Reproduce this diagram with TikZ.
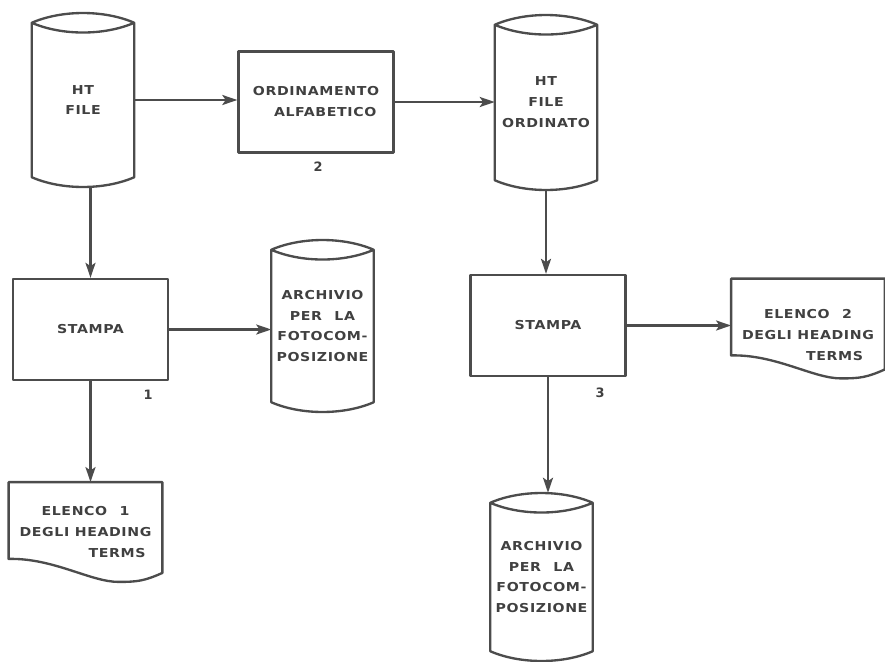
\documentclass[tikz,border=0pt]{standalone}
\usepackage{fontspec}
\newfontfamily\flowfont{DejaVu Sans Bold}[FakeStretch=1.15, LetterSpace=5]
\newfontfamily\numfont{DejaVu Sans Bold}
\usetikzlibrary{arrows.meta}
\usetikzlibrary{calc}
\colorlet{flowline}{black!70}
\colorlet{flowtext}{black!75}

\begin{document}
\begin{tikzpicture}[x=0.03cm, y=-0.03cm,
        every node/.style={text=flowtext, font=\flowfont\fontsize{10.5pt}{17.9pt}\selectfont, align=center},
        outline/.style={draw=flowline, line width=2pt, line join=round},
        procbox/.style={outline, rectangle, minimum width=4.65cm, minimum height=3.03cm, inner sep=0pt},
        store/.style={rectangle, minimum width=3.06cm, inner sep=0pt},
        listdoc/.style={rectangle, minimum width=4.6cm, minimum height=2.98cm, inner sep=0pt},
        flow/.style={outline, -{Stealth[length=0.45cm, width=0.3cm, inset=0.1cm]}},
        numlabel/.style={font=\numfont\fontsize{11pt}{12pt}\selectfont}]
        \useasboundingbox (0,0) rectangle (885,661);
        \clip (0,0) rectangle (885,661);
        % stores
        \node[store, minimum height=5.22cm] (htfile) at (83,100) {HT\\FILE};
        \node[store, minimum height=5.25cm] (ordinato) at (546,102.5) {HT\\FILE\\ORDINATO};
        \node[store, minimum height=5.16cm] (archivio1) at (322.5,326) {ARCHIVIO\\PER\quad LA\\FOTOCOM-\\POSIZIONE};
        \node[store, minimum height=5.04cm] (archivio2) at (541.5,577) {ARCHIVIO\\PER\quad LA\\FOTOCOM-\\POSIZIONE};
        % processes
        \node[procbox] (ordin) at (316,102) {ORDINAMENTO\\\hspace*{0.55cm}ALFABETICO};
        \node[procbox] (stampa1) at (90.5,329.5) {STAMPA};
        \node[procbox] (stampa3) at (548,325.5) {STAMPA};
        % printed lists
        \node[listdoc] (elenco1) at (85.5,532) {ELENCO\quad 1\\DEGLI HEADING\\\hspace*{1.9cm}TERMS};
        \node[listdoc] (elenco2) at (808,328.5) {\rule{0pt}{0.66cm}ELENCO\quad 2\\DEGLI HEADING\\\hspace*{1.6cm}TERMS};
        % step numbers
        \node[numlabel] (num2) at (318,167) {2};
        \node[numlabel] (num1) at (148,395) {1};
        \node[numlabel] (num3) at (600,393) {3};
        % cylinder outlines
        \foreach \n in {htfile,ordinato,archivio1,archivio2}
        {
            \draw[outline] ($(\n.north west)+(0,10)$) .. controls ($(\n.north west)+(30,-3)$) and ($(\n.north east)+(-30,-3)$) .. ($(\n.north east)+(0,10)$)
                .. controls ($(\n.north east)+(-30,23)$) and ($(\n.north west)+(30,23)$) .. ($(\n.north west)+(0,10)$)
                -- ($(\n.south west)+(0,-10)$)
                .. controls ($(\n.south west)+(30,3)$) and ($(\n.south east)+(-30,3)$) .. ($(\n.south east)+(0,-10)$)
                -- ($(\n.north east)+(0,10)$);
        }
        % document outlines
        \foreach \n in {elenco1,elenco2}
        {
            \draw[outline] (\n.north west) -- (\n.north east) -- ($(\n.south east)+(0,-9)$)
                .. controls ($(\n.south east)+(-18,-1)$) and ($(\n.south)+(52,0)$) .. ($(\n.south)+(33,0)$)
                .. controls ($(\n.south)+(5,0)$) and ($(\n.south west)+(45,-24)$) .. ($(\n.south west)+(0,-23)$)
                -- cycle;
        }
        % flow lines
        \draw[flow] (htfile.east) -- (htfile.east -| ordin.west);
        \draw[flow] (ordin.east) -- (ordin.east -| ordinato.west);
        \draw[flow] (stampa1.north |- htfile.south) -- (stampa1.north);
        \draw[flow] (stampa1.east) -- (stampa1.east -| archivio1.west);
        \draw[flow] (stampa1.south) -- (stampa1.south |- elenco1.north);
        \draw[flow] (ordinato.south) -- (ordinato.south |- stampa3.north);
        \draw[flow] (stampa3.east) -- (stampa3.east -| elenco2.west);
        \draw[flow] (stampa3.south) -- (stampa3.south |- archivio2.north);
\end{tikzpicture}
\end{document}
